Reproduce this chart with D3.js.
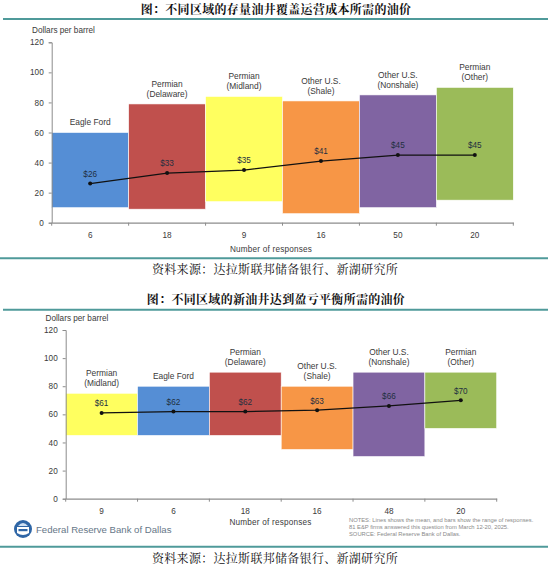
<!DOCTYPE html>
<html>
<head>
<meta charset="utf-8">
<script src="https://cdn.jsdelivr.net/npm/d3@7"></script>
<style>
  body { margin: 0; background: #fff; }
  svg text { font-family: "Liberation Sans", Arial, sans-serif; }
  .cn { font-family: "Noto Serif CJK SC", "Noto Sans CJK SC", serif !important; }
</style>
</head>
<body>
<div id="chart"></div>
<script>
// chart 1: price needed to cover operating expenses, existing wells
var regions1   = ["Eagle Ford", "Permian\n(Delaware)", "Permian\n(Midland)", "Other U.S.\n(Shale)", "Other U.S.\n(Nonshale)", "Permian\n(Other)"];
var responses1 = [6, 18, 9, 16, 50, 20];
var low1       = [10, 9, 14, 6, 10, 15];
var high1      = [60, 79, 84, 81, 85, 90];
var mean1      = [26, 33, 35, 41, 45, 45];

// chart 2: breakeven price for new wells
var regions2   = ["Permian\n(Midland)", "Eagle Ford", "Permian\n(Delaware)", "Other U.S.\n(Shale)", "Other U.S.\n(Nonshale)", "Permian\n(Other)"];
var responses2 = [9, 6, 18, 16, 48, 20];
var low2       = [45, 45, 45, 35, 30, 50];
var high2      = [75, 80, 90, 80, 90, 90];
var mean2      = [61, 62, 62, 63, 66, 70];

var yTicks = [0, 20, 40, 60, 80, 100, 120];

var regionColor = {
  "Eagle Ford": "#558ed5",
  "Permian\n(Delaware)": "#c0504d",
  "Permian\n(Midland)": "#ffff5f",
  "Other U.S.\n(Shale)": "#f79646",
  "Other U.S.\n(Nonshale)": "#8064a2",
  "Permian\n(Other)": "#9bbb59"
};

var svg = d3.select("#chart").append("svg")
    .attr("width", 550)
    .attr("height", 568);

var teal = "#4f9a9a";
var txt = "#3a3a3a";

function header(title, y, lineY, lineX0) {
  svg.append("text").attr("class", "cn")
    .attr("x", 276).attr("y", y)
    .attr("text-anchor", "middle").attr("dy", "0.35em")
    .style("font-size", "12px").style("font-weight", "bold")
    .style("letter-spacing", "0.3px")
    .attr("fill", "#111")
    .text(title);
  svg.append("line")
    .attr("x1", lineX0).attr("x2", 548)
    .attr("y1", lineY).attr("y2", lineY)
    .attr("stroke", teal).attr("stroke-width", 2);
}

function footer(lineY, textY) {
  svg.append("line")
    .attr("x1", 0).attr("x2", 548)
    .attr("y1", lineY).attr("y2", lineY)
    .attr("stroke", teal).attr("stroke-width", 2);
  svg.append("text").attr("class", "cn")
    .attr("x", 275).attr("y", textY)
    .attr("text-anchor", "middle").attr("dy", "0.35em")
    .style("font-size", "12px").style("letter-spacing", "0.3px")
    .attr("fill", "#111")
    .text("资料来源：达拉斯联邦储备银行、新湖研究所");
}

function drawChart(o) {
  var x = d3.scaleBand().domain(o.regions).range([o.left, o.right]).padding(0);
  var y = d3.scaleLinear().domain([0, 120]).range([o.bottom, o.top]);
  var g = svg.append("g");

  g.append("text")
    .attr("x", o.ylabX).attr("y", o.ylabY).attr("dy", "0.35em")
    .style("font-size", "8.2px").attr("fill", txt)
    .text("Dollars per barrel");

  // range bars
  g.selectAll(".bar").data(o.regions).enter().append("rect")
    .attr("x", function (d) { return x(d); })
    .attr("width", x.bandwidth())
    .attr("y", function (d, i) { return y(o.high[i]); })
    .attr("height", function (d, i) { return y(o.low[i]) - y(o.high[i]); })
    .attr("fill", function (d) { return regionColor[d]; })
    .attr("stroke", "#fff").attr("stroke-width", 0.6);

  // region names above bars
  g.selectAll(".rlab").data(o.regions).enter().append("text")
    .attr("text-anchor", "middle")
    .style("font-size", "8.4px").attr("fill", txt)
    .each(function (d, i) {
      var lines = d.split("\n");
      var t = d3.select(this);
      var base = y(o.high[i]) - 10 - (lines.length - 1) * 10.3;
      lines.forEach(function (l, k) {
        t.append("tspan")
          .attr("x", x(d) + x.bandwidth() / 2)
          .attr("y", base + k * 10.3)
          .attr("dy", "0.35em")
          .text(l);
      });
    });

  // y axis
  var ya = g.append("g")
    .attr("transform", "translate(" + o.left + ",0)")
    .call(d3.axisLeft(y).tickValues(yTicks).tickSize(3).tickPadding(5));
  ya.selectAll("path, line").attr("stroke", "#8c8c8c");
  ya.selectAll("text").style("font-size", "8.2px").attr("fill", txt)
    .style("font-family", "Liberation Sans, Arial, sans-serif");

  // x axis, labels are the response counts
  var responses = o.responses;
  var xa = g.append("g")
    .attr("transform", "translate(0," + o.bottom + ")")
    .call(d3.axisBottom(x).tickSize(0).tickPadding(9)
      .tickFormat(function (d) { return responses[o.regions.indexOf(d)]; }));
  xa.select(".domain").attr("stroke", "#8c8c8c").attr("stroke-width", 1.3);
  xa.selectAll("text").style("font-size", "8.2px").attr("fill", txt)
    .style("font-family", "Liberation Sans, Arial, sans-serif");

  var edges = o.regions.map(function (d) { return x(d); }).concat([o.right]);
  g.selectAll(".xt").data(edges).enter().append("line")
    .attr("x1", function (d) { return d; }).attr("x2", function (d) { return d; })
    .attr("y1", o.bottom).attr("y2", o.bottom + 3)
    .attr("stroke", "#8c8c8c");

  g.append("text")
    .attr("x", o.xlabX).attr("y", o.xlabY).attr("dy", "0.35em")
    .attr("text-anchor", "middle")
    .style("font-size", "8.2px").style("letter-spacing", "0.2px").attr("fill", txt)
    .text("Number of responses");

  // mean line
  var line = d3.line()
    .x(function (d, i) { return x(o.regions[i]) + x.bandwidth() / 2; })
    .y(function (d) { return y(d); });
  g.append("path").datum(o.mean)
    .attr("d", line).attr("fill", "none")
    .attr("stroke", "#111").attr("stroke-width", 1.2);
  g.selectAll(".pt").data(o.mean).enter().append("circle")
    .attr("cx", function (d, i) { return x(o.regions[i]) + x.bandwidth() / 2; })
    .attr("cy", function (d) { return y(d); })
    .attr("r", 2).attr("fill", "#111");
  g.selectAll(".mlab").data(o.mean).enter().append("text")
    .attr("x", function (d, i) { return x(o.regions[i]) + x.bandwidth() / 2; })
    .attr("y", function (d) { return y(d) - 9.5; })
    .attr("dy", "0.35em").attr("text-anchor", "middle")
    .style("font-size", "8.2px").attr("fill", "#1f2f3f")
    .text(function (d) { return "$" + d; });
}

header("图：不同区域的存量油井覆盖运营成本所需的油价", 10, 19, 3);
drawChart({
  regions: regions1, responses: responses1, low: low1, high: high1, mean: mean1,
  left: 51.7, right: 513.3, top: 42.3, bottom: 222.7,
  ylabX: 32, ylabY: 30, xlabX: 271, xlabY: 249
});
footer(258.3, 270);

header("图：不同区域的新油井达到盈亏平衡所需的油价", 300, 309.7, 3);
drawChart({
  regions: regions2, responses: responses2, low: low2, high: high2, mean: mean2,
  left: 65.7, right: 496.7, top: 330, bottom: 498.7,
  ylabX: 45.5, ylabY: 318.3, xlabX: 270.5, xlabY: 522.3
});

// Dallas Fed logo + notes
var logo = svg.append("g").attr("transform", "translate(23,529)");
logo.append("circle").attr("r", 9).attr("fill", "#2f66a6");
logo.append("path").attr("d", "M-6,-2 L6,-2 L6,4 Q0,8 -6,4 Z").attr("fill", "#fff");
logo.append("path").attr("d", "M-5,-3 Q0,-9 5,-3 Z").attr("fill", "#cfe0f2");
logo.append("rect").attr("x", -4.5).attr("y", 0).attr("width", 9).attr("height", 2.2).attr("fill", "#2f66a6");
svg.append("text")
  .attr("x", 36).attr("y", 529.5).attr("dy", "0.35em")
  .style("font-size", "9.6px").attr("fill", "#667788")
  .text("Federal Reserve Bank of Dallas");

var notes = [
  "NOTES: Lines shows the mean, and bars show the range of responses.",
  "81 E&P firms answered this question from March 12-20, 2025.",
  "SOURCE: Federal Reserve Bank of Dallas."
];
svg.selectAll(".note").data(notes).enter().append("text")
  .attr("x", 349).attr("y", function (d, i) { return 520 + i * 7; })
  .attr("dy", "0.35em")
  .style("font-size", "5.8px").attr("fill", "#8a8a8a")
  .text(function (d) { return d; });

footer(546.7, 558.3);
</script>
</body>
</html>
